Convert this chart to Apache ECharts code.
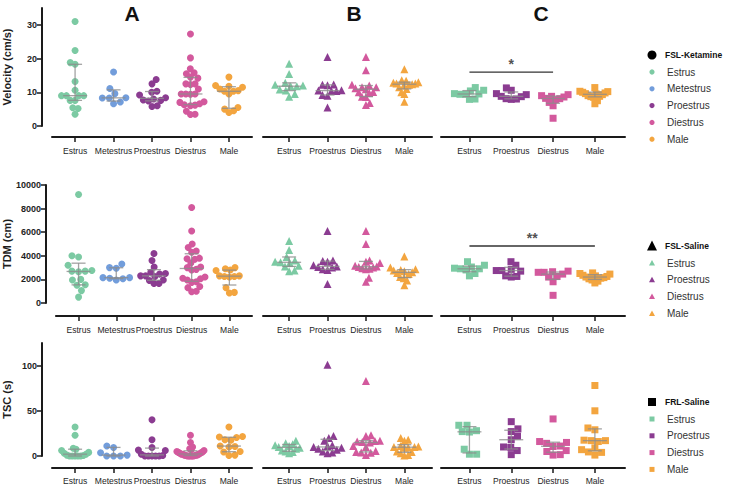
<!DOCTYPE html>
<html><head><meta charset="utf-8">
<script src="https://cdn.jsdelivr.net/npm/echarts@6/dist/echarts.min.js"></script>
<style>html,body{margin:0;padding:0;background:#fff}#c{width:729px;height:486px}</style>
</head><body><div id="c"></div>
<script>
// ---------- categories & labels ----------
const catsKet = ['Estrus','Metestrus','Proestrus','Diestrus','Male'];
const catsSal = ['Estrus','Proestrus','Diestrus','Male'];
const catsFrl = ['Estrus','Proestrus','Diestrus','Male'];
const panelLetters = ['A','B','C'];
const rowNames = ['Velocity (cm/s)','TDM (cm)','TSC (s)'];
const groupNames = ['FSL-Ketamine','FSL-Saline','FRL-Saline'];
const velTicks = [0,10,20,30];
const tdmTicks = [0,2000,4000,6000,8000,10000];
const tscTicks = [0,50,100];
const velMax = 35, tdmMax = 10000, tscMax = 125;

// ---------- Velocity (cm/s) ----------
const velKetEstrus    = [31, 22.4, 18.8, 18.3, 13.2, 10.6, 9, 9, 9, 9, 7.6, 7.6, 5.4, 5.2, 3.5];
const velKetMetestrus = [16, 11.1, 9.6, 8.4, 8.3, 8.3, 7.1, 6.6];
const velKetProestrus = [13.8, 12.5, 10.3, 10.0, 9.2, 8.4, 8.0, 7.7, 7.6, 7.4, 6.0, 5.8];
const velKetDiestrus  = [27.3, 20.2, 17, 15.8, 15.5, 14.5, 14.2, 12.5, 12.5, 12.3, 11, 9.5, 9.5, 9.5, 9.4, 7.2, 7.0, 6.6, 6.3, 6.2, 6.0, 4.4, 3.5, 3.4];
const velKetMale      = [14.5, 12, 11.8, 11.5, 11, 10.5, 10.3, 10.3, 9.5, 5.5, 5.0, 4.5, 4.0];
const velSalEstrus    = [18.5, 15.4, 12.8, 12.2, 12.0, 11.8, 11.8, 10.8, 10.5, 9.5, 8.7];
const velSalProestrus = [20.5, 12.3, 12.2, 12.1, 10.6, 10.5, 10.4, 10.4, 9.2, 9.0, 5.5];
const velSalDiestrus  = [20.5, 16.5, 12.2, 12.0, 11.5, 11.5, 11.2, 10.9, 10.1, 10.0, 9.8, 8.7, 8.6, 6.8, 6.2];
const velSalMale      = [16.8, 13.6, 13.4, 13.0, 12.8, 12.6, 12.6, 12.4, 12.2, 12.0, 11.5, 11.0, 10.0, 9.5, 7.2];
const velFrlEstrus    = [11.4, 10.6, 10.4, 9.6, 9.5, 9.4, 9.4, 8.0, 7.9];
const velFrlProestrus = [11.3, 10.6, 9.6, 9.3, 8.8, 8.7, 8.1, 8.0, 7.9];
const velFrlDiestrus  = [9.3, 9.0, 8.8, 8.6, 8.2, 8.1, 7.8, 7.0, 6.0, 2.3];
const velFrlMale      = [11.4, 10.3, 10.2, 10.0, 9.8, 9.6, 9.5, 9.3, 9.0, 8.8, 8.7, 8.5, 7.5, 6.6];

// ---------- TDM (cm) ----------
const tdmKetEstrus    = [9200, 4000, 3900, 3200, 2750, 2700, 2700, 2650, 2000, 1950, 1550, 1500, 1050, 500];
const tdmKetMetestrus = [3300, 3000, 2950, 2150, 2150, 2100, 2050, 1950];
const tdmKetProestrus = [4200, 3600, 3050, 2600, 2500, 2450, 2300, 2300, 2250, 1950, 1900, 1650, 1650];
const tdmKetDiestrus  = [8100, 6100, 5000, 4700, 4400, 4300, 3800, 3750, 3700, 3400, 3050, 3000, 2850, 2800, 2200, 2100, 2050, 1950, 1800, 1750, 1400, 1300, 1000, 950];
const tdmKetMale      = [3000, 2900, 2800, 2750, 2300, 2300, 2250, 2250, 2200, 1300, 900, 850];
const tdmSalEstrus    = [5250, 4500, 3900, 3600, 3500, 3450, 3400, 3150, 3100, 2750, 2700];
const tdmSalProestrus = [6100, 3600, 3550, 3500, 3200, 3100, 3050, 3000, 2850, 2800, 1600];
const tdmSalDiestrus  = [6100, 5000, 3600, 3500, 3400, 3150, 3100, 3050, 3000, 2950, 2900, 2850, 2150, 1800];
const tdmSalMale      = [3950, 3000, 2850, 2800, 2750, 2700, 2600, 2550, 2450, 2200, 2100, 1900, 1500];
const tdmFrlEstrus    = [3500, 3200, 3050, 2950, 2900, 2900, 2800, 2500, 2300];
const tdmFrlProestrus = [3500, 3200, 2850, 2750, 2750, 2700, 2300, 2250, 2200];
const tdmFrlDiestrus  = [2700, 2650, 2600, 2600, 2450, 2250, 2200, 1800, 650];
const tdmFrlMale      = [2550, 2500, 2450, 2350, 2300, 2250, 2200, 2150, 2100, 2050, 1950, 1850, 1700];

// ---------- TSC (s) ----------
const tscKetEstrus    = [32, 23, 8.5, 7.5, 6, 4, 3, 2, 1, 0.5, 0, 0, 0, 0, 0];
const tscKetMetestrus = [11, 9.5, 3.5, 1, 0, 0, 0];
const tscKetProestrus = [40, 18, 9.5, 6.5, 6, 2, 0.5, 0, 0, 0, 0, 0];
const tscKetDiestrus  = [23, 15, 10, 8, 7, 6, 5, 4.5, 4, 3.5, 3, 2.5, 2, 2, 1.5, 1, 1, 0.5, 0.5, 0, 0, 0, 0, 0];
const tscKetMale      = [32, 21.5, 21, 20.5, 18, 17.5, 11, 10.5, 10, 5, 4.5, 1, 0.5];
const tscSalEstrus    = [17, 14, 13, 12, 11, 10, 9, 8, 6, 5, 4.5, 3];
const tscSalProestrus = [101, 22, 20, 17, 12, 11, 10, 9, 8, 7, 5, 4, 3];
const tscSalDiestrus  = [83, 23, 22, 17, 16.5, 16, 15.5, 15, 11, 10, 5.5, 4.5, 4, 3.5, 1];
const tscSalMale      = [20, 18, 17, 11, 10.5, 10, 10, 9.5, 9, 5, 4.5, 3, 1, 0.5];
const tscFrlEstrus    = [34, 34, 28, 27, 26.5, 7.5, 2, 2];
const tscFrlProestrus = [38, 30, 27, 22, 18, 10, 9.5, 6, 1.5];
const tscFrlDiestrus  = [41, 16, 15, 14, 11, 10.5, 6, 5, 1.5, 1];
const tscFrlMale      = [78, 50, 31, 29, 17.5, 17, 17, 16, 9, 7, 4.5, 4, 1];

// ---------- significance brackets: [fromCat, toCat, value, label] ----------
const sigVel = [0, 2, 16, '*'];
const sigTdm = [0, 3, 4830, '**'];

// ================= build =================
const colors = {Estrus:'#7ccaa3', Metestrus:'#729ddb', Proestrus:'#8b3c91', Diestrus:'#d3599d', Male:'#f3a53f'};
const symbols = ['circle','triangle','rect'];
const symSize = [7, 8, 7];
const FONTW = '"Liberation Sans",Arial,sans-serif';

// pick a condensed font if one is installed, else shrink to fit
const mctx = document.createElement('canvas').getContext('2d');
function fontAvailable(name){
  const t = 'MetestrusProestrus 0123';
  mctx.font = '20px monospace'; const a = mctx.measureText(t).width;
  mctx.font = '20px "' + name + '", monospace'; const b = mctx.measureText(t).width;
  return Math.abs(a-b) > 0.5;
}
const narrow = ['Liberation Sans Narrow','Arial Narrow','Nimbus Sans Narrow'].find(fontAvailable);
const FONT = narrow ? '"' + narrow + '",' + FONTW : FONTW;
mctx.font = '10px ' + FONT;
const wMet = mctx.measureText('Metestrus').width;
const xLabelSize = Math.min(10.5, 10*37.6/wMet);

const rowsData = [
  {name:rowNames[0], max:velMax, ticks:velTicks, groups:[
    [velKetEstrus,velKetMetestrus,velKetProestrus,velKetDiestrus,velKetMale],
    [velSalEstrus,velSalProestrus,velSalDiestrus,velSalMale],
    [velFrlEstrus,velFrlProestrus,velFrlDiestrus,velFrlMale]], sig:sigVel},
  {name:rowNames[1], max:tdmMax, ticks:tdmTicks, groups:[
    [tdmKetEstrus,tdmKetMetestrus,tdmKetProestrus,tdmKetDiestrus,tdmKetMale],
    [tdmSalEstrus,tdmSalProestrus,tdmSalDiestrus,tdmSalMale],
    [tdmFrlEstrus,tdmFrlProestrus,tdmFrlDiestrus,tdmFrlMale]], sig:sigTdm},
  {name:rowNames[2], max:tscMax, ticks:tscTicks, groups:[
    [tscKetEstrus,tscKetMetestrus,tscKetProestrus,tscKetDiestrus,tscKetMale],
    [tscSalEstrus,tscSalProestrus,tscSalDiestrus,tscSalMale],
    [tscFrlEstrus,tscFrlProestrus,tscFrlDiestrus,tscFrlMale]], sig:null}
];
const colCats = [catsKet, catsSal, catsFrl];

// layout
const rowLay = [{top:8, height:118, xOff:11, labelMargin:9},
                {top:185, height:118, xOff:13, labelMargin:9},
                {top:343, height:113, xOff:12, labelMargin:8}];
const colLay = [{left:46, width:206, xmin:-0.6, xmax:4.6, lim:14},
                {left:263, width:169, xmin:-0.68, xmax:3.72, lim:14},
                {left:441, width:184, xmin:-0.68, xmax:3.72, lim:15}];

function quant(s, p){
  const n = s.length; let pos = p*(n+1);
  if (pos < 1) pos = 1; if (pos > n) pos = n;
  const lo = Math.floor(pos), hi = Math.ceil(pos);
  return s[lo-1] + (pos-lo)*(s[hi-1]-s[lo-1]);
}
function swarm(values, pxPerY, d, lim){
  const idx = values.map((v,i)=>i).sort((a,b)=>values[a]-values[b]);
  const placed = []; const out = new Array(values.length).fill(0);
  let flip = 1;
  for (const i of idx){
    const y = values[i]*pxPerY;
    const cands = [0];
    for (const p of placed){
      const dy = Math.abs(p.y-y);
      if (dy < d){ const w = Math.sqrt(d*d-dy*dy); cands.push(p.x+w, p.x-w); }
    }
    cands.sort((a,b)=>Math.abs(a)-Math.abs(b) || (a-b)*flip);
    let best = 0;
    for (const c of cands){
      if (placed.every(p => (p.x-c)*(p.x-c)+(p.y-y)*(p.y-y) >= d*d-1e-6)){ best = c; break; }
    }
    flip = -flip;
    placed.push({x:best, y}); out[i] = best;
  }
  const m = Math.max(...out.map(Math.abs));
  if (m > lim){ for (let k=0;k<out.length;k++) out[k] *= lim/m; }
  return out;
}

const grid = [], xAxis = [], yAxis = [], series = [];
rowsData.forEach((row, r) => {
  const rl = rowLay[r];
  colLay.forEach((cl, c) => {
    const g = r*3 + c;
    const cats = colCats[c];
    grid.push({left:cl.left, top:rl.top, width:cl.width, height:rl.height});
    const ci = cats.map((_,i)=>i);
    xAxis.push({gridIndex:g, type:'value', min:cl.xmin, max:cl.xmax, offset:rl.xOff,
      axisLine:{show:true, onZero:false, lineStyle:{color:'#1a1a1a', width:2}},
      axisTick:{show:true, customValues:ci, length:5, lineStyle:{color:'#1a1a1a', width:1.5}},
      axisLabel:{show:true, customValues:ci, formatter:v=>cats[Math.round(v)], margin:rl.labelMargin,
        showMinLabel:true, showMaxLabel:true, hideOverlap:false,
        fontSize:xLabelSize, color:'#1e1e1e', fontFamily:FONT},
      splitLine:{show:false}});
    if (c === 0){
      yAxis.push({gridIndex:g, type:'value', min:0, max:row.max, offset:10,
        name:row.name, nameLocation:'middle', nameGap:30, nameRotate:90,
        nameTextStyle:{fontSize:11, fontWeight:'bold', color:'#1e1e1e', fontFamily:FONTW},
        axisLine:{show:true, onZero:false, lineStyle:{color:'#1a1a1a', width:2}},
        axisTick:{show:true, customValues:row.ticks, length:5, lineStyle:{color:'#1a1a1a', width:1.5}},
        axisLabel:{show:true, customValues:row.ticks, formatter:v=>String(v), showMinLabel:true, showMaxLabel:true,
          fontSize:9, fontWeight:'bold', color:'#1e1e1e', margin:5, fontFamily:FONT},
        splitLine:{show:false}});
    } else {
      yAxis.push({gridIndex:g, type:'value', min:0, max:row.max, show:false, splitLine:{show:false}});
    }
    const pxPerY = rl.height/row.max;
    const pxPerX = cl.width/(cl.xmax-cl.xmin);
    const stats = [];
    row.groups[c].forEach((vals, k) => {
      const dx = swarm(vals, pxPerY, 7.2, cl.lim);
      series.push({type:'scatter', xAxisIndex:g, yAxisIndex:g, symbol:symbols[c], symbolSize:symSize[c],
        itemStyle:{color:colors[cats[k]], opacity:1}, silent:true, z:2,
        data: vals.map((v,j)=>[k + dx[j]/pxPerX, v])});
      const s = vals.slice().sort((a,b)=>a-b);
      stats.push([k, quant(s,0.5), quant(s,0.25), quant(s,0.75)]);
    });
    series.push({type:'custom', xAxisIndex:g, yAxisIndex:g, z:5, silent:true, data:stats,
      renderItem:(params, api) => {
        const x = api.value(0);
        const pm = api.coord([x, api.value(1)]), p1 = api.coord([x, api.value(2)]), p3 = api.coord([x, api.value(3)]);
        const st = {stroke:'rgba(140,140,140,0.8)', lineWidth:1.3};
        return {type:'group', children:[
          {type:'line', shape:{x1:pm[0]-12, y1:pm[1], x2:pm[0]+12, y2:pm[1]}, style:st},
          {type:'line', shape:{x1:p1[0], y1:p1[1], x2:p3[0], y2:p3[1]}, style:st},
          {type:'line', shape:{x1:p1[0]-7, y1:p1[1], x2:p1[0]+7, y2:p1[1]}, style:st},
          {type:'line', shape:{x1:p3[0]-7, y1:p3[1], x2:p3[0]+7, y2:p3[1]}, style:st}
        ]};
      }});
    if (c === 2 && row.sig){
      const sg = row.sig;
      series.push({type:'line', xAxisIndex:g, yAxisIndex:g, symbol:'none', silent:true, z:6,
        lineStyle:{color:'#333', width:1.3}, data:[[sg[0], sg[2]], [sg[1], sg[2]]]});
      series.push({type:'scatter', xAxisIndex:g, yAxisIndex:g, symbolSize:1, silent:true, z:6,
        itemStyle:{color:'rgba(0,0,0,0)'},
        label:{show:true, position:'top', distance:1, formatter:sg[3], fontSize:14, fontWeight:'bold', color:'#222', fontFamily:FONTW},
        data:[[(sg[0]+sg[1])/2, sg[2]]]});
    }
  });
});

// titles & legends (graphic)
const graphic = [];
const letterX = [132, 354, 541];
panelLetters.forEach((t,i) => graphic.push({type:'text', x:letterX[i], y:13, silent:true,
  style:{text:t, x:0, y:0, align:'center', verticalAlign:'middle', font:'bold 21px '+FONTW, fill:'#111'}}));
const legCats = [catsKet, catsSal, catsFrl];
const legTop = [55, 246, 402];
legCats.forEach((cats, gi) => {
  const y0 = legTop[gi];
  if (gi === 0) graphic.push({type:'circle', silent:true, shape:{cx:652, cy:y0, r:4.5}, style:{fill:'#000'}});
  if (gi === 1) graphic.push({type:'polygon', silent:true, shape:{points:[[652,y0-5.5],[647,y0+4.5],[657,y0+4.5]]}, style:{fill:'#000'}});
  if (gi === 2) graphic.push({type:'rect', silent:true, shape:{x:648, y:y0-4, width:8, height:8}, style:{fill:'#000'}});
  graphic.push({type:'text', silent:true, x:665, y:y0, style:{text:groupNames[gi], verticalAlign:'middle', font:'bold 8.5px '+FONTW, fill:'#111'}});
  cats.forEach((cat, k) => {
    const y = y0 + 17 + k*16.8;
    const col = colors[cat];
    if (gi === 0) graphic.push({type:'circle', silent:true, shape:{cx:652, cy:y, r:2.6}, style:{fill:col}});
    if (gi === 1) graphic.push({type:'polygon', silent:true, shape:{points:[[652,y-3],[649,y+2.5],[655,y+2.5]]}, style:{fill:col}});
    if (gi === 2) graphic.push({type:'rect', silent:true, shape:{x:649.5, y:y-2.5, width:5, height:5}, style:{fill:col}});
    graphic.push({type:'text', silent:true, x:667, y:y, style:{text:cat, verticalAlign:'middle', font:'10px '+FONTW, fill:'#333'}});
  });
});

const chart = echarts.init(document.getElementById('c'), null, {renderer:'svg'});
chart.setOption({animation:false, backgroundColor:'#fff', grid, xAxis, yAxis, series, graphic});
</script></body></html>
